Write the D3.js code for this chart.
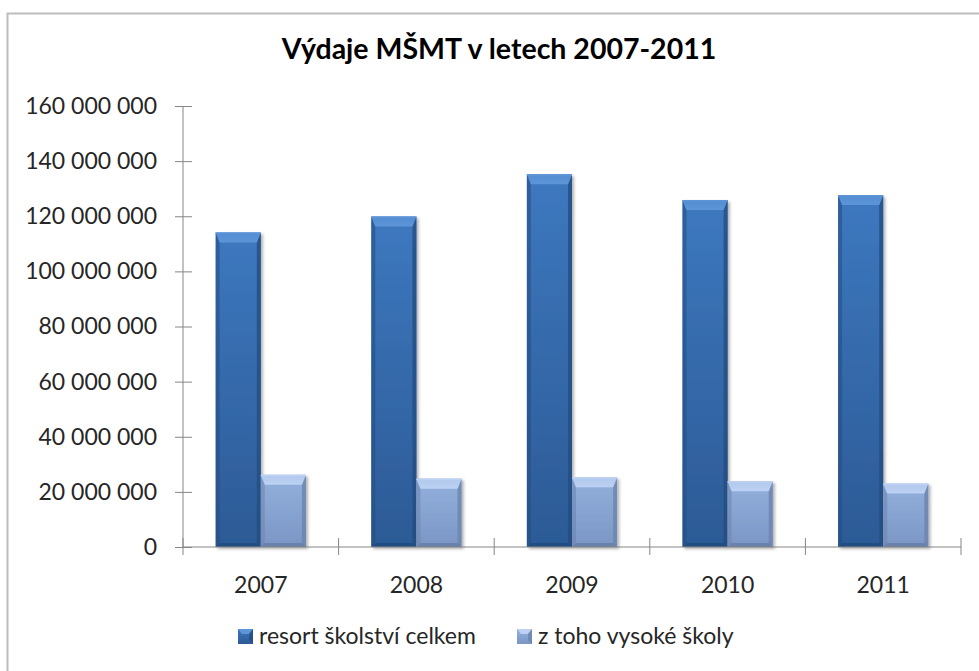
<!DOCTYPE html>
<html>
<head>
<meta charset="utf-8">
<script src="https://cdn.jsdelivr.net/npm/d3@7"></script>
<style>
  body { margin: 0; background: #fff; }
  svg { display: block; font-family: Lato, "Open Sans", sans-serif; }
  .tick text { fill: #262626; }
</style>
</head>
<body>
<svg width="979" height="671"></svg>
<script>
// data
var years = ["2007", "2008", "2009", "2010", "2011"];
var celkem = [114100000, 119900000, 135200000, 125900000, 127700000];
var vysoke = [26200000, 24800000, 25300000, 23900000, 23000000];
var seriesNames = ["resort školství celkem", "z toho vysoké školy"];
var yTicks = [0, 20000000, 40000000, 60000000, 80000000, 100000000, 120000000, 140000000, 160000000];

var svg = d3.select("svg");
var defs = svg.append("defs");

// chart frame (runs off the right and bottom edge like the original)
svg.append("rect")
	.attr("x", 7.5).attr("y", 13.5)
	.attr("width", 1000).attr("height", 700)
	.attr("fill", "#fff")
	.attr("stroke", "#bcbcbc")
	.attr("stroke-width", 2);

var plotLeft = 183, plotRight = 961, plotTop = 106, plotBottom = 547;

var x = d3.scaleBand().domain(years).range([plotLeft, plotRight]).paddingInner(0.42).paddingOuter(0.21);
var sub = d3.scaleBand().domain([0, 1]).range([0, x.bandwidth()]);
var y = d3.scaleLinear().domain([0, 160000000]).range([plotBottom, plotTop]);

var cz = d3.formatLocale({ decimal: ",", thousands: "\u00a0", grouping: [3], currency: ["", " Kč"] });
var fmt = cz.format(",d");

// colours: face top, face bottom, bevel top, bevel side, bevel bottom
var palette = [
	{ top: "#3d78bf", bot: "#2c5a95", bevel: "#5d95d8", side: "#244d82", base: "#1f4575" },
	{ top: "#93b0dd", bot: "#7b96c4", bevel: "#bdd2f3", side: "#6b83ad", base: "#5d7399" }
];

palette.forEach(function(p, i) {
	var g = defs.append("linearGradient").attr("id", "face" + i)
		.attr("x1", 0).attr("y1", 0).attr("x2", 0).attr("y2", 1);
	g.append("stop").attr("offset", "0%").attr("stop-color", p.top);
	g.append("stop").attr("offset", "100%").attr("stop-color", p.bot);
	var b = defs.append("linearGradient").attr("id", "bev" + i)
		.attr("x1", 0).attr("y1", 0).attr("x2", 0).attr("y2", 1);
	b.append("stop").attr("offset", "0%").attr("stop-color", p.bevel).attr("stop-opacity", 0.7);
	b.append("stop").attr("offset", "100%").attr("stop-color", p.bevel);
});

var shadow = defs.append("filter").attr("id", "shadow")
	.attr("x", "-20%").attr("y", "-20%").attr("width", "150%").attr("height", "150%");
shadow.append("feDropShadow").attr("dx", 2).attr("dy", 2).attr("stdDeviation", 1.5)
	.attr("flood-color", "#000").attr("flood-opacity", 0.3);

// title
svg.append("text")
	.attr("x", 499).attr("y", 59)
	.attr("text-anchor", "middle")
	.attr("font-size", 28.5).attr("font-weight", "bold")
	.attr("fill", "#000")
	.text("Výdaje MŠMT v letech 2007-2011");

// y axis
var yAxis = svg.append("g")
	.attr("transform", "translate(" + plotLeft + ",0)")
	.call(d3.axisLeft(y).tickValues(yTicks).tickFormat(fmt).tickSize(8));
yAxis.selectAll(".tick line").attr("x2", 9).attr("x1", -8).attr("stroke", "#868686");
yAxis.select(".domain").attr("stroke", "#868686").attr("d", "M0," + plotTop + "V" + plotBottom);
yAxis.selectAll(".tick text").attr("font-size", 23).attr("x", -26).attr("font-family", "Lato, sans-serif");

// bars
var data = years.map(function(yr, i) { return [celkem[i], vysoke[i]]; });

function drawBar(g, bx, by, w, h, i) {
	var p = palette[i];
	var bv = Math.min(10, h / 2), sd = 4;
	var grp = g.append("g").attr("filter", "url(#shadow)");
	grp.append("rect").attr("x", bx).attr("y", by).attr("width", w).attr("height", h)
		.attr("fill", "url(#face" + i + ")");
	// left and right edge
	grp.append("path").attr("fill", p.side).attr("opacity", 0.55)
		.attr("d", "M" + bx + "," + by + "L" + (bx + sd) + "," + (by + bv) + "L" + (bx + sd) + "," + (by + h - sd) + "L" + bx + "," + (by + h) + "Z");
	grp.append("path").attr("fill", p.side).attr("opacity", 0.8)
		.attr("d", "M" + (bx + w) + "," + by + "L" + (bx + w - sd) + "," + (by + bv) + "L" + (bx + w - sd) + "," + (by + h - sd) + "L" + (bx + w) + "," + (by + h) + "Z");
	// bottom edge
	grp.append("path").attr("fill", p.base).attr("opacity", 0.6)
		.attr("d", "M" + bx + "," + (by + h) + "L" + (bx + sd) + "," + (by + h - sd) + "L" + (bx + w - sd) + "," + (by + h - sd) + "L" + (bx + w) + "," + (by + h) + "Z");
	// top bevel
	grp.append("path").attr("fill", "url(#bev" + i + ")")
		.attr("d", "M" + bx + "," + by + "L" + (bx + w) + "," + by + "L" + (bx + w - sd) + "," + (by + bv) + "L" + (bx + sd) + "," + (by + bv) + "Z");
	grp.append("rect").attr("x", bx).attr("y", by).attr("width", w).attr("height", 1.5)
		.attr("fill", p.bevel);
}

var groups = svg.append("g").selectAll("g")
	.data(data)
	.enter()
	.append("g")
	.attr("transform", function(d, i) { return "translate(" + x(years[i]) + ",0)"; });

groups.each(function(d) {
	var g = d3.select(this);
	d.forEach(function(v, i) {
		drawBar(g, sub(i), y(v), sub.bandwidth(), plotBottom - y(v), i);
	});
});

// x axis
var xb = d3.scaleLinear().domain([0, years.length]).range([plotLeft, plotRight]);
var xAxis = svg.append("g").attr("transform", "translate(0," + plotBottom + ")");
xAxis.append("line").attr("x1", plotLeft).attr("x2", plotRight).attr("stroke", "#868686");
xAxis.selectAll(".xt")
	.data(d3.range(years.length + 1))
	.enter()
	.append("line")
	.attr("class", "xt")
	.attr("x1", function(d) { return xb(d); })
	.attr("x2", function(d) { return xb(d); })
	.attr("y1", -9).attr("y2", 8)
	.attr("stroke", "#868686");
xAxis.selectAll(".xl")
	.data(years)
	.enter()
	.append("text")
	.attr("class", "xl")
	.attr("x", function(d) { return x(d) + x.bandwidth() / 2; })
	.attr("y", 46)
	.attr("text-anchor", "middle")
	.attr("font-size", 23)
	.attr("fill", "#262626")
	.text(function(d) { return d; });

// legend
var legendX = [238, 517];
var legend = svg.append("g").selectAll("g")
	.data(seriesNames)
	.enter()
	.append("g")
	.attr("transform", function(d, i) { return "translate(" + legendX[i] + ",629)"; });
legend.each(function(d, i) {
	var g = d3.select(this);
	var p = palette[i];
	g.append("rect").attr("width", 15).attr("height", 15).attr("fill", "url(#face" + i + ")");
	g.append("path").attr("fill", p.bevel).attr("d", "M0,0L15,0L11,5L4,5Z");
	g.append("path").attr("fill", p.side).attr("d", "M15,0L15,15L11,11L11,5Z").attr("opacity", 0.8);
	g.append("text").attr("x", 21).attr("y", 15)
		.attr("font-size", 23).attr("fill", "#262626").text(d);
});
</script>
</body>
</html>
